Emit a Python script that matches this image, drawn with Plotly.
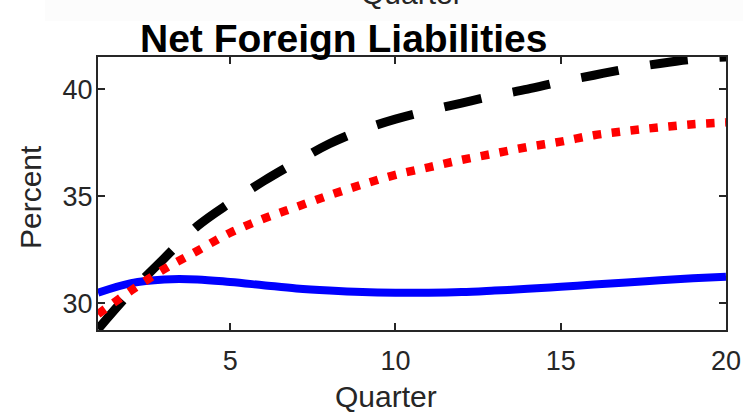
import plotly.graph_objects as go

# Impulse responses of net foreign liabilities, in percent, by quarter
quarters = list(range(1, 21))
resp_solid = [30.5, 30.95, 31.12, 31.12, 31.0, 30.85, 30.7, 30.6, 30.53, 30.5,
              30.5, 30.53, 30.6, 30.68, 30.78, 30.88, 30.98, 31.08, 31.17, 31.25]
resp_dashed = [28.8, 30.55, 32.1, 33.6, 34.7, 35.7, 36.6, 37.45, 38.1, 38.6,
               39.0, 39.35, 39.7, 40.0, 40.35, 40.65, 40.95, 41.2, 41.4, 41.5]
resp_dotted = [29.5, 30.6, 31.6, 32.45, 33.3, 33.95, 34.5, 35.05, 35.55, 36.0,
               36.35, 36.7, 37.0, 37.3, 37.55, 37.85, 38.05, 38.22, 38.36, 38.45]

x_ticks = [5, 10, 15, 20]
y_ticks = [30, 35, 40]

AX = "#262626"
FONT = "Liberation Sans, Arial, sans-serif"

# plot-area geometry in pixels
W, H = 743, 412
L, R, T, B = 98, 17, 57, 82
PW, PH = W - L - R, H - T - B


def px(x):
    return (x - L) / PW


def py(y):
    return (H - B - y) / PH


fig = go.Figure()
fig.add_trace(go.Scatter(x=quarters, y=resp_solid, mode="lines",
                         line=dict(color="#0000ff", width=8, shape="spline")))
fig.add_trace(go.Scatter(x=quarters, y=resp_dashed, mode="lines",
                         line=dict(color="#000000", width=9, dash="38px,32px",
                                   shape="spline")))
fig.add_trace(go.Scatter(x=quarters, y=resp_dotted, mode="lines",
                         line=dict(color="#ff0000", width=8.5, dash="8.5px,10.5px",
                                   shape="spline")))

axis_common = dict(
    showline=True, linecolor=AX, linewidth=2, mirror="allticks",
    ticks="inside", ticklen=7, tickwidth=2, tickcolor=AX,
    showgrid=False, zeroline=False, automargin=False,
    tickfont=dict(family=FONT, size=27, color=AX),
)

fig.update_xaxes(range=[1, 20], tickvals=x_ticks, ticklabelstandoff=6, **axis_common)
fig.update_yaxes(range=[28.76, 41.5], tickvals=y_ticks, ticklabelstandoff=-2, **axis_common)

annotations = [
    dict(text="<b>Net Foreign Liabilities</b>", x=px(343), y=py(38),
         font=dict(family=FONT, size=39, color="#000000")),
    dict(text="Quarter", x=px(386), y=py(396),
         font=dict(family=FONT, size=30, color=AX)),
    dict(text="Percent", x=px(30), y=py(197), textangle=-90,
         font=dict(family=FONT, size=30, color=AX)),
    # x-axis label of the panel above, cut by the page edge
    dict(text="Quarter", x=px(412), y=py(12), yanchor="bottom",
         font=dict(family=FONT, size=30, color=AX)),
]
for a in annotations:
    a.setdefault("yanchor", "middle")
    fig.add_annotation(xref="paper", yref="paper", xanchor="center",
                       showarrow=False, **a)

fig.add_shape(type="rect", xref="paper", yref="paper", layer="below",
              x0=px(45), x1=px(W), y0=py(21), y1=py(0),
              fillcolor="#fcfcfc", line=dict(width=0))

fig.update_layout(
    width=W, height=H, autosize=False,
    margin=dict(l=L, r=R, t=T, b=B, pad=0, autoexpand=False),
    paper_bgcolor="white", plot_bgcolor="white",
    showlegend=False,
)

fig.write_html("out.html")
